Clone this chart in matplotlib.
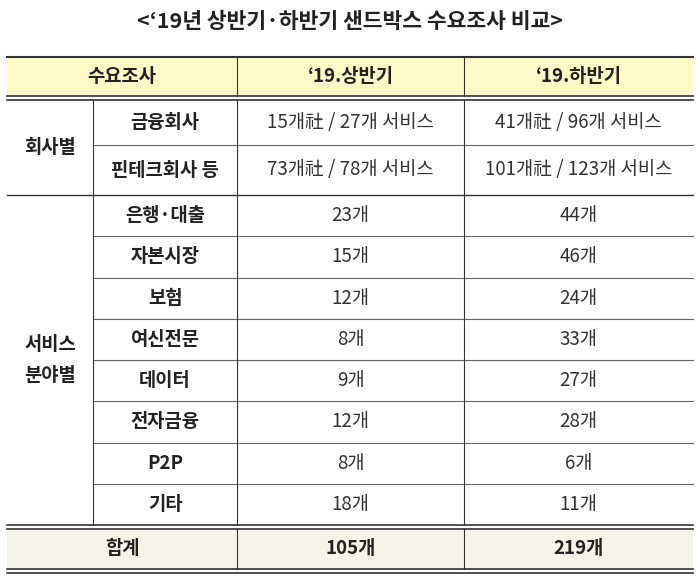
import matplotlib
matplotlib.use("Agg")
import matplotlib.pyplot as plt
from matplotlib.patches import Rectangle

plt.rcParams['font.family'] = ['Noto Sans CJK KR', 'DejaVu Sans']

title = "<‘19년 상반기·하반기 샌드박스 수요조사 비교>"
headers = ["수요조사", "‘19.상반기", "‘19.하반기"]
group1 = "회사별"
group1_items = ["금융회사", "핀테크회사 등"]
group1_h1 = ["15개社 / 27개 서비스", "73개社 / 78개 서비스"]
group1_h2 = ["41개社 / 96개 서비스", "101개社 / 123개 서비스"]
group2 = "서비스\n분야별"
group2_items = ["은행·대출", "자본시장", "보험", "여신전문", "데이터", "전자금융", "P2P", "기타"]
group2_h1 = [23, 15, 12, 8, 9, 12, 8, 18]
group2_h2 = [44, 46, 24, 33, 27, 28, 6, 11]
total_label = "합계"
total_h1 = 105
total_h2 = 219

fig = plt.figure(figsize=(7, 5.81), dpi=100)
ax = fig.add_axes([0, 0, 1, 1])
ax.set_xlim(0, 700); ax.set_ylim(581, 0); ax.axis('off')

L, R = 7, 693
c1, c2, c3 = 93, 237, 464
col = '#333333'
fs = 13.5

ax.text(350, 22, title, ha='center', va='center', fontsize=15.5, fontweight='bold', color='#222')

# header
ht, hb = 57, 96
ax.add_patch(Rectangle((L, ht), R-L, hb-ht, fc='#FFF9C8', ec='none'))
ax.plot([L, R], [ht, ht], color=col, lw=1.5)
for y in (hb, hb+4):
    ax.plot([L, R], [y, y], color=col, lw=1.2)
hx = [(L+c2)/2, (c2+c3)/2, (c3+R)/2]
for x, t in zip(hx, headers):
    ax.text(x, (ht+hb)/2, t, ha='center', va='center', fontsize=fs, fontweight='bold', color='#222')

# rows
y0 = 100
g1_edges = [y0, 145, 195]
g2_h = (525 - 195) / len(group2_items)
g2_edges = [195 + i*g2_h for i in range(len(group2_items)+1)]

def row(yt, yb, name, v1, v2):
    ym = (yt+yb)/2
    ax.text((c1+c2)/2, ym, name, ha='center', va='center', fontsize=fs, fontweight='bold', color='#222')
    ax.text((c2+c3)/2, ym, v1, ha='center', va='center', fontsize=fs, color='#333')
    ax.text((c3+R)/2, ym, v2, ha='center', va='center', fontsize=fs, color='#333')

for i, n in enumerate(group1_items):
    row(g1_edges[i], g1_edges[i+1], n, group1_h1[i], group1_h2[i])
for i, n in enumerate(group2_items):
    row(g2_edges[i], g2_edges[i+1], n, f"{group2_h1[i]}개", f"{group2_h2[i]}개")

ax.text((L+c1)/2, (g1_edges[0]+g1_edges[-1])/2, group1, ha='center', va='center', fontsize=fs, fontweight='bold', color='#222')
ax.text((L+c1)/2, (g2_edges[0]+g2_edges[-1])/2, group2, ha='center', va='center', fontsize=fs, fontweight='bold', color='#222', linespacing=1.8)

# horizontal lines
ax.plot([c1, R], [g1_edges[1]]*2, color='#666', lw=0.8)
ax.plot([L, R], [195, 195], color=col, lw=1.0)
for y in g2_edges[1:-1]:
    ax.plot([c1, R], [y, y], color='#666', lw=0.8)

# total
tt, tb = 529, 569
ax.add_patch(Rectangle((L, tt), R-L, tb-tt, fc='#F6F3E8', ec='none'))
for y in (525, 529, 569, 573):
    ax.plot([L, R], [y, y], color=col, lw=1.2)
ax.text((L+c2)/2, (tt+tb)/2, total_label, ha='center', va='center', fontsize=fs, fontweight='bold', color='#222')
ax.text((c2+c3)/2, (tt+tb)/2, f"{total_h1}개", ha='center', va='center', fontsize=fs, fontweight='bold', color='#222')
ax.text((c3+R)/2, (tt+tb)/2, f"{total_h2}개", ha='center', va='center', fontsize=fs, fontweight='bold', color='#222')

# vertical lines
ax.plot([c1, c1], [hb+4, 525], color=col, lw=0.8)
for x in (c2, c3):
    ax.plot([x, x], [ht, hb], color=col, lw=0.8)
    ax.plot([x, x], [hb+4, 525], color=col, lw=0.8)
    ax.plot([x, x], [tt, tb], color=col, lw=0.8)

fig.savefig("out.png", dpi=100)
